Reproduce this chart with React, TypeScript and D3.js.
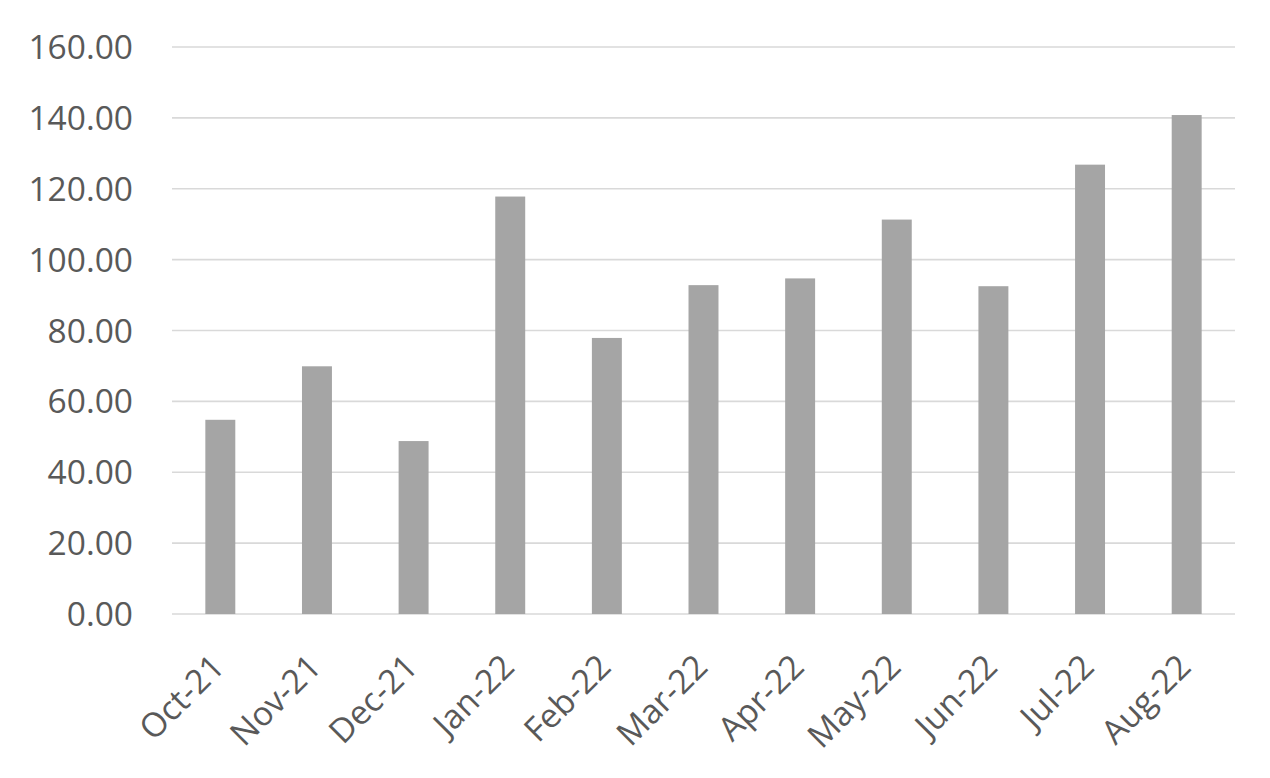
import React from "react";
import * as d3 from "d3";

const categories = ["Oct-21", "Nov-21", "Dec-21", "Jan-22", "Feb-22", "Mar-22", "Apr-22", "May-22", "Jun-22", "Jul-22", "Aug-22"];
const values = [54.8, 69.9, 48.8, 117.8, 77.9, 92.8, 94.7, 111.3, 92.5, 126.8, 140.8];
const yTicks = [0, 20, 40, 60, 80, 100, 120, 140, 160];

const W = 1270;
const H = 778;
const margin = { left: 172, right: 35, top: 47, bottom: 164 };

export default function App() {
  const x = d3
    .scaleBand<string>()
    .domain(categories)
    .range([margin.left, W - margin.right])
    .paddingInner(0.69)
    .paddingOuter(0.345);
  const y = d3.scaleLinear().domain([0, 160]).range([H - margin.bottom, margin.top]);
  const font = "'Open Sans', sans-serif";
  const textColor = "#595959";

  return (
    <svg width={W} height={H} style={{ position: "absolute", left: 0, top: 0, background: "#fff" }}>
      {yTicks.map((t) => (
        <g key={t}>
          <line x1={margin.left} x2={W - margin.right} y1={y(t)} y2={y(t)} stroke="#d9d9d9" strokeWidth={1.6} />
          <text x={133} y={y(t)} dy="0.36em" textAnchor="end" fontFamily={font} fontSize={33.5} fill={textColor}>
            {d3.format(".2f")(t)}
          </text>
        </g>
      ))}
      {categories.map((c, i) => (
        <rect
          key={c}
          x={x(c)}
          y={y(values[i])}
          width={x.bandwidth()}
          height={y(0) - y(values[i])}
          fill="#a5a5a5"
        />
      ))}
      {categories.map((c) => {
        const cx = (x(c) as number) + x.bandwidth() / 2;
        return (
          <text
            key={c}
            transform={`translate(${cx + 6},${y(0) + 55}) rotate(-45)`}
            textAnchor="end"
            fontFamily={font}
            fontSize={33.5}
            fill={textColor}
          >
            {c}
          </text>
        );
      })}
    </svg>
  );
}
